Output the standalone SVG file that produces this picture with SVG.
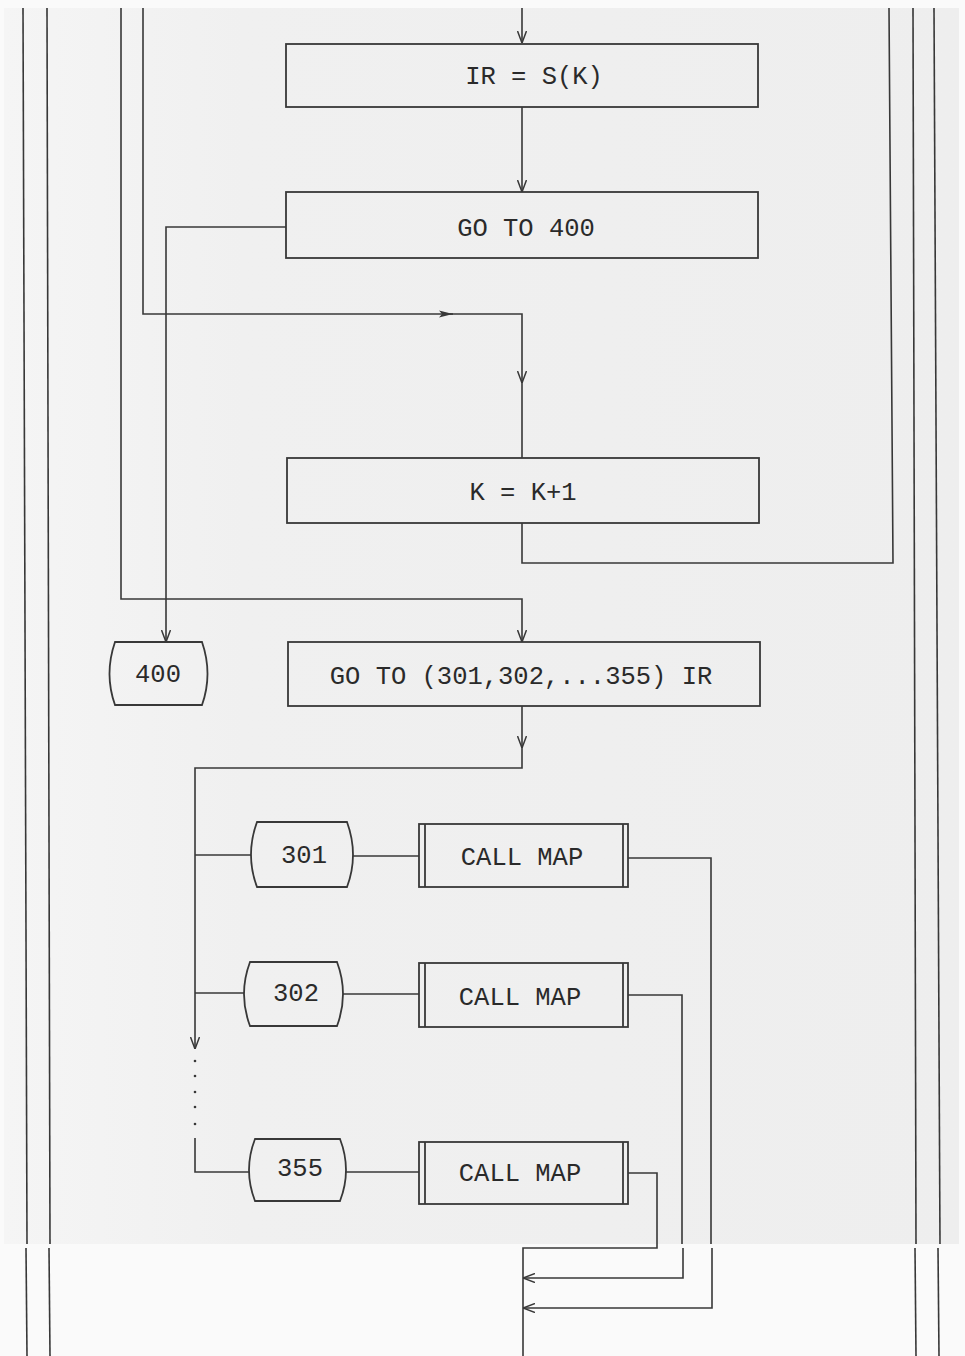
<svg xmlns="http://www.w3.org/2000/svg" width="965" height="1356" viewBox="0 0 965 1356">
<style>
.ln{fill:none;stroke:#383838;stroke-width:1.6;stroke-linejoin:miter}
.bx{fill:none;stroke:#383838;stroke-width:1.8}
.tx{font-family:"Liberation Mono","DejaVu Sans Mono",monospace;font-size:25.5px;fill:#2a2a2a;text-anchor:middle}
</style>
<defs>
<linearGradient id="bg" x1="0" y1="0" x2="1" y2="0">
<stop offset="0" stop-color="#f5f5f5"/>
<stop offset="0.25" stop-color="#f0f0f0"/>
<stop offset="1" stop-color="#eeeeee"/>
</linearGradient>
<marker id="arr" viewBox="0 0 12 10" refX="12" refY="5" markerWidth="12" markerHeight="10" markerUnits="userSpaceOnUse" orient="auto">
<path d="M0,0.5 L12,5 L0,9.5" fill="none" stroke="#383838" stroke-width="1.5"/>
</marker>
<marker id="arrf" viewBox="0 0 14 8" refX="14" refY="4" markerWidth="14" markerHeight="8" markerUnits="userSpaceOnUse" orient="auto">
<path d="M0,0.5 L14,4 L0,7.5 L3,4 Z" fill="#383838" stroke="none"/>
</marker>
</defs>
<rect x="0" y="0" width="965" height="1356" fill="#fafafa"/>
<rect x="4" y="8" width="955" height="1236" fill="url(#bg)"/>

<g id="borders" class="ln">
<line x1="23" y1="8" x2="27" y2="1244"/>
<line x1="26" y1="1248" x2="27" y2="1356"/>
<line x1="47" y1="8" x2="50" y2="1244"/>
<line x1="49" y1="1248" x2="50" y2="1356"/>
<line x1="913" y1="8" x2="916" y2="1244"/>
<line x1="915" y1="1248" x2="916" y2="1356"/>
<line x1="934" y1="8" x2="940" y2="1244"/>
<line x1="938" y1="1248" x2="939" y2="1356"/>
</g>

<g id="connectors" class="ln">
<line x1="522" y1="8" x2="522" y2="43" marker-end="url(#arr)"/>
<line x1="522" y1="107" x2="522" y2="192" marker-end="url(#arr)"/>
<polyline points="286,227 166,227 166,642" marker-end="url(#arr)"/>
<polyline points="143,8 143,314 453,314" marker-end="url(#arrf)"/>
<polyline points="450,314 522,314 522,383" marker-end="url(#arr)"/>
<line x1="522" y1="380" x2="522" y2="458"/>
<polyline points="522,523 522,563 893,563 889,8"/>
<polyline points="121,8 121,599 522,599 522,642" marker-end="url(#arr)"/>
<line x1="522" y1="706" x2="522" y2="748" marker-end="url(#arr)"/>
<polyline points="522,745 522,768 195,768 195,1049" marker-end="url(#arr)"/>
<polyline points="195,1138 195,1172 249,1172"/>
<line x1="195" y1="855" x2="251" y2="855"/>
<line x1="195" y1="993" x2="244" y2="993"/>
<line x1="353" y1="856" x2="419" y2="856"/>
<line x1="343" y1="994" x2="419" y2="994"/>
<line x1="346" y1="1172" x2="419" y2="1172"/>
<polyline points="628,858 711,858 711,1244"/>
<polyline points="712,1248 712,1308 523,1308" marker-end="url(#arr)"/>
<polyline points="628,995 682,995 682,1244"/>
<polyline points="683,1248 683,1278 523,1278" marker-end="url(#arr)"/>
<polyline points="628,1173 657,1173 657,1248 523,1248 523,1356"/>
<g fill="#383838" stroke="none">
<circle cx="195" cy="1061" r="1.3"/>
<circle cx="195" cy="1076" r="1.3"/>
<circle cx="195" cy="1092" r="1.3"/>
<circle cx="195" cy="1107" r="1.3"/>
<circle cx="195" cy="1124" r="1.3"/>
</g>
</g>

<g id="n_irsk">
<rect class="bx" x="286" y="44" width="472" height="63"/>
<text class="tx" x="534" y="84">IR = S(K)</text>
</g>
<g id="n_goto400">
<rect class="bx" x="286" y="192" width="472" height="66"/>
<text class="tx" x="526" y="236">GO TO 400</text>
</g>
<g id="n_kinc">
<rect class="bx" x="287" y="458" width="472" height="65"/>
<text class="tx" x="523" y="500">K = K+1</text>
</g>
<g id="n_400">
<path class="bx" d="M115,642 L202,642 Q213,674 202,705 L115,705 Q104,674 115,642 Z"/>
<text class="tx" x="158" y="682">400</text>
</g>
<g id="n_gotoir">
<rect class="bx" x="288" y="642" width="472" height="64"/>
<text class="tx" x="521" y="684">GO TO (301,302,...355) IR</text>
</g>
<g id="n_301">
<path class="bx" d="M257,822 L347,822 Q359,855 347,887 L257,887 Q245,855 257,822 Z"/>
<text class="tx" x="304" y="863">301</text>
</g>
<g id="n_302">
<path class="bx" d="M250,962 L337,962 Q349,994 337,1026 L250,1026 Q238,994 250,962 Z"/>
<text class="tx" x="296" y="1001">302</text>
</g>
<g id="n_355">
<path class="bx" d="M255,1139 L340,1139 Q352,1170 340,1201 L255,1201 Q243,1170 255,1139 Z"/>
<text class="tx" x="300" y="1176">355</text>
</g>
<g id="n_call1">
<rect class="bx" x="419" y="824" width="209" height="63"/>
<line class="bx" x1="425" y1="824" x2="425" y2="887"/>
<line class="bx" x1="623" y1="824" x2="623" y2="887"/>
<text class="tx" x="522" y="865">CALL MAP</text>
</g>
<g id="n_call2">
<rect class="bx" x="419" y="963" width="209" height="64"/>
<line class="bx" x1="425" y1="963" x2="425" y2="1027"/>
<line class="bx" x1="623" y1="963" x2="623" y2="1027"/>
<text class="tx" x="520" y="1005">CALL MAP</text>
</g>
<g id="n_call3">
<rect class="bx" x="419" y="1142" width="209" height="62"/>
<line class="bx" x1="425" y1="1142" x2="425" y2="1204"/>
<line class="bx" x1="623" y1="1142" x2="623" y2="1204"/>
<text class="tx" x="520" y="1181">CALL MAP</text>
</g>
</svg>
